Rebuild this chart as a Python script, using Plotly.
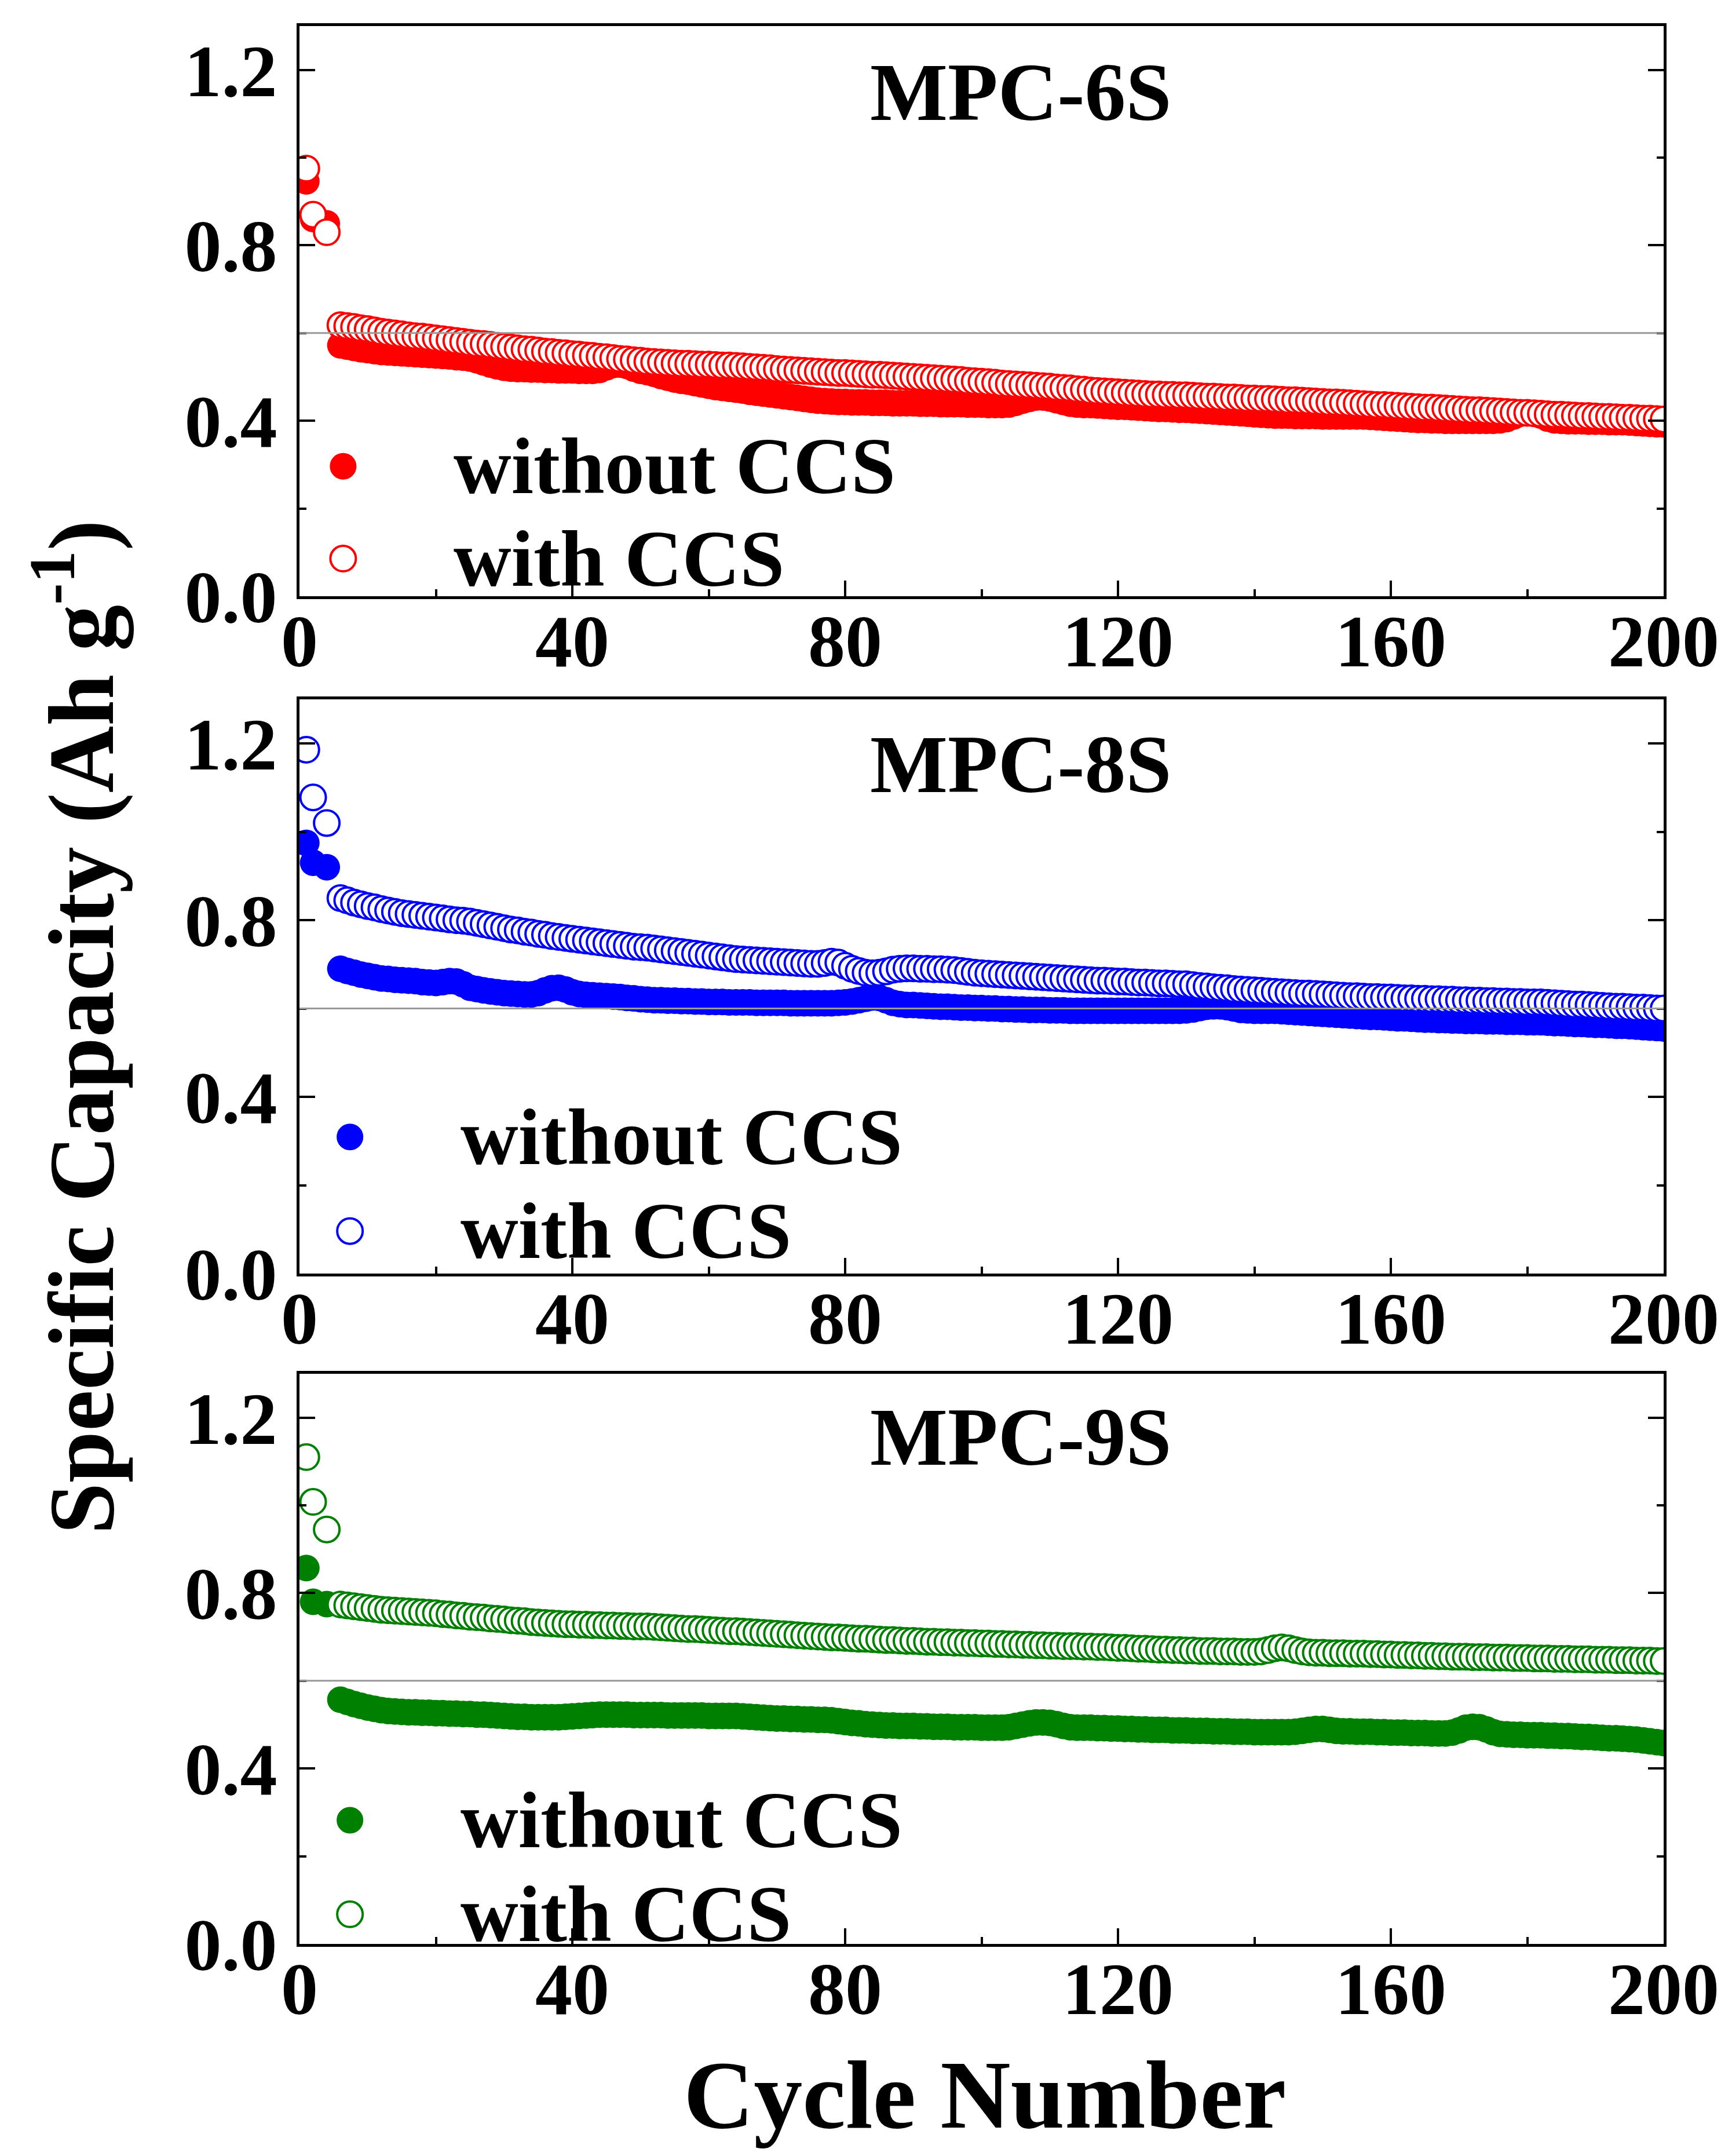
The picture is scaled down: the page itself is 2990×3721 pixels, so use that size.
import plotly.graph_objects as go

# cycle numbers
early_cycles = [1, 2, 4]
cycles = list(range(6, 201))

# MPC-6S
mpc6s_without_early = [0.946, 0.860, 0.850]
mpc6s_with_early = [0.975, 0.870, 0.830]
mpc6s_without = [
    0.572, 0.569, 0.566, 0.563, 0.561, 0.559, 0.557, 0.556, 0.555, 0.554,
    0.553, 0.552, 0.551, 0.550, 0.549, 0.548, 0.547, 0.545, 0.544, 0.542,
    0.538, 0.533, 0.528, 0.524, 0.521, 0.519, 0.518, 0.518, 0.517, 0.517,
    0.516, 0.516, 0.515, 0.515, 0.515, 0.514, 0.514, 0.514, 0.516, 0.522,
    0.527, 0.528, 0.525, 0.519, 0.514, 0.511, 0.507, 0.502, 0.498, 0.494,
    0.491, 0.489, 0.486, 0.483, 0.480, 0.477, 0.475, 0.473, 0.471, 0.469,
    0.466, 0.464, 0.462, 0.460, 0.458, 0.456, 0.454, 0.452, 0.450, 0.448,
    0.446, 0.445, 0.444, 0.443, 0.443, 0.442, 0.442, 0.442, 0.441, 0.441,
    0.441, 0.440, 0.440, 0.440, 0.440, 0.439, 0.439, 0.439, 0.438, 0.438,
    0.438, 0.438, 0.437, 0.437, 0.437, 0.436, 0.436, 0.436, 0.437, 0.441,
    0.446, 0.450, 0.453, 0.453, 0.451, 0.447, 0.443, 0.439, 0.437, 0.436,
    0.436, 0.435, 0.434, 0.433, 0.432, 0.432, 0.431, 0.430, 0.429, 0.428,
    0.427, 0.427, 0.426, 0.425, 0.425, 0.424, 0.423, 0.422, 0.421, 0.420,
    0.419, 0.418, 0.417, 0.416, 0.415, 0.414, 0.413, 0.412, 0.412, 0.412,
    0.411, 0.411, 0.411, 0.411, 0.410, 0.410, 0.410, 0.410, 0.410, 0.410,
    0.410, 0.409, 0.408, 0.407, 0.406, 0.405, 0.404, 0.403, 0.402, 0.402,
    0.401, 0.401, 0.400, 0.400, 0.400, 0.400, 0.400, 0.400, 0.400, 0.400,
    0.401, 0.404, 0.410, 0.416, 0.418, 0.417, 0.412, 0.405, 0.401, 0.400,
    0.399, 0.399, 0.399, 0.398, 0.398, 0.398, 0.397, 0.397, 0.397, 0.396,
    0.395, 0.394, 0.393, 0.392, 0.392,
]
mpc6s_with = [
    0.618, 0.616, 0.614, 0.611, 0.609, 0.606, 0.603, 0.601, 0.599, 0.597,
    0.595, 0.593, 0.592, 0.590, 0.588, 0.586, 0.584, 0.582, 0.580, 0.578,
    0.576, 0.575, 0.573, 0.571, 0.569, 0.567, 0.565, 0.563, 0.562, 0.560,
    0.558, 0.557, 0.555, 0.554, 0.552, 0.551, 0.549, 0.548, 0.546, 0.545,
    0.543, 0.541, 0.540, 0.538, 0.537, 0.535, 0.534, 0.533, 0.532, 0.531,
    0.530, 0.530, 0.529, 0.528, 0.528, 0.527, 0.526, 0.526, 0.525, 0.524,
    0.523, 0.522, 0.521, 0.520, 0.518, 0.517, 0.516, 0.515, 0.514, 0.513,
    0.512, 0.511, 0.510, 0.509, 0.509, 0.508, 0.507, 0.506, 0.505, 0.505,
    0.504, 0.503, 0.502, 0.501, 0.500, 0.499, 0.498, 0.497, 0.496, 0.495,
    0.494, 0.493, 0.491, 0.490, 0.489, 0.488, 0.487, 0.485, 0.484, 0.483,
    0.482, 0.481, 0.480, 0.479, 0.478, 0.476, 0.475, 0.474, 0.472, 0.471,
    0.469, 0.468, 0.467, 0.466, 0.465, 0.464, 0.463, 0.462, 0.461, 0.460,
    0.460, 0.459, 0.459, 0.458, 0.458, 0.457, 0.456, 0.455, 0.455, 0.454,
    0.453, 0.453, 0.452, 0.451, 0.451, 0.450, 0.450, 0.449, 0.448, 0.447,
    0.447, 0.446, 0.445, 0.444, 0.443, 0.442, 0.442, 0.441, 0.440, 0.439,
    0.438, 0.437, 0.436, 0.436, 0.435, 0.434, 0.433, 0.432, 0.431, 0.430,
    0.430, 0.429, 0.428, 0.427, 0.426, 0.425, 0.424, 0.424, 0.423, 0.422,
    0.421, 0.420, 0.419, 0.418, 0.418, 0.417, 0.416, 0.415, 0.414, 0.414,
    0.413, 0.412, 0.411, 0.411, 0.410, 0.409, 0.409, 0.408, 0.407, 0.407,
    0.406, 0.405, 0.405, 0.404, 0.403,
]

# MPC-8S
mpc8s_without_early = [0.975, 0.930, 0.920]
mpc8s_with_early = [1.186, 1.078, 1.020]
mpc8s_without = [
    0.690, 0.685, 0.681, 0.677, 0.674, 0.671, 0.668, 0.667, 0.665, 0.664,
    0.663, 0.662, 0.660, 0.659, 0.658, 0.660, 0.662, 0.661, 0.655, 0.647,
    0.644, 0.641, 0.639, 0.637, 0.635, 0.634, 0.633, 0.632, 0.632, 0.635,
    0.641, 0.646, 0.647, 0.643, 0.637, 0.633, 0.631, 0.630, 0.629, 0.628,
    0.627, 0.626, 0.624, 0.623, 0.621, 0.620, 0.619, 0.619, 0.618, 0.618,
    0.617, 0.617, 0.616, 0.616, 0.615, 0.615, 0.615, 0.614, 0.614, 0.614,
    0.614, 0.613, 0.613, 0.613, 0.613, 0.613, 0.612, 0.612, 0.612, 0.612,
    0.612, 0.612, 0.612, 0.613, 0.614, 0.616, 0.619, 0.622, 0.625, 0.624,
    0.619, 0.613, 0.610, 0.608, 0.608, 0.607, 0.606, 0.605, 0.604, 0.604,
    0.603, 0.602, 0.602, 0.601, 0.601, 0.600, 0.600, 0.599, 0.599, 0.598,
    0.598, 0.597, 0.597, 0.597, 0.596, 0.596, 0.596, 0.595, 0.595, 0.595,
    0.595, 0.595, 0.595, 0.595, 0.595, 0.595, 0.595, 0.595, 0.595, 0.595,
    0.595, 0.595, 0.595, 0.595, 0.596, 0.598, 0.601, 0.604, 0.605, 0.605,
    0.603, 0.600, 0.597, 0.596, 0.595, 0.595, 0.595, 0.595, 0.594, 0.593,
    0.592, 0.591, 0.590, 0.589, 0.588, 0.587, 0.586, 0.585, 0.584, 0.583,
    0.582, 0.581, 0.581, 0.580, 0.579, 0.578, 0.578, 0.577, 0.576, 0.575,
    0.575, 0.574, 0.574, 0.573, 0.573, 0.572, 0.572, 0.572, 0.571, 0.571,
    0.571, 0.570, 0.570, 0.570, 0.569, 0.569, 0.569, 0.568, 0.567, 0.567,
    0.566, 0.565, 0.565, 0.564, 0.563, 0.563, 0.562, 0.561, 0.561, 0.560,
    0.559, 0.558, 0.557, 0.556, 0.555,
]
mpc8s_with = [
    0.850, 0.845, 0.840, 0.836, 0.832, 0.829, 0.825, 0.822, 0.819, 0.816,
    0.814, 0.812, 0.810, 0.808, 0.806, 0.804, 0.802, 0.800, 0.799, 0.797,
    0.794, 0.791, 0.788, 0.785, 0.782, 0.779, 0.777, 0.774, 0.772, 0.769,
    0.767, 0.764, 0.762, 0.760, 0.758, 0.756, 0.754, 0.752, 0.750, 0.748,
    0.746, 0.744, 0.742, 0.740, 0.739, 0.738, 0.736, 0.734, 0.732, 0.730,
    0.728, 0.726, 0.724, 0.722, 0.720, 0.718, 0.716, 0.714, 0.712, 0.711,
    0.710, 0.709, 0.708, 0.707, 0.706, 0.705, 0.704, 0.703, 0.702, 0.701,
    0.701, 0.703, 0.706, 0.704, 0.697, 0.690, 0.685, 0.681, 0.680, 0.681,
    0.684, 0.688, 0.690, 0.691, 0.691, 0.690, 0.690, 0.689, 0.689, 0.688,
    0.687, 0.685, 0.683, 0.681, 0.680, 0.679, 0.678, 0.677, 0.676, 0.675,
    0.674, 0.673, 0.672, 0.671, 0.670, 0.669, 0.668, 0.667, 0.666, 0.665,
    0.664, 0.663, 0.663, 0.662, 0.661, 0.661, 0.660, 0.659, 0.659, 0.658,
    0.657, 0.657, 0.656, 0.655, 0.655, 0.653, 0.651, 0.650, 0.648, 0.647,
    0.646, 0.644, 0.643, 0.642, 0.641, 0.640, 0.639, 0.638, 0.637, 0.636,
    0.635, 0.634, 0.634, 0.633, 0.632, 0.631, 0.630, 0.629, 0.628, 0.628,
    0.627, 0.626, 0.626, 0.625, 0.625, 0.624, 0.623, 0.623, 0.622, 0.622,
    0.621, 0.621, 0.620, 0.620, 0.619, 0.619, 0.618, 0.618, 0.617, 0.617,
    0.616, 0.616, 0.615, 0.615, 0.614, 0.614, 0.614, 0.613, 0.612, 0.611,
    0.610, 0.609, 0.609, 0.608, 0.607, 0.606, 0.605, 0.604, 0.604, 0.603,
    0.602, 0.602, 0.601, 0.600, 0.600,
]

# MPC-9S
mpc9s_without_early = [0.857, 0.780, 0.775]
mpc9s_with_early = [1.110, 1.008, 0.945]
mpc9s_without = [
    0.557, 0.552, 0.547, 0.543, 0.539, 0.536, 0.533, 0.531, 0.530, 0.529,
    0.528, 0.528, 0.527, 0.527, 0.526, 0.526, 0.525, 0.525, 0.524, 0.524,
    0.523, 0.523, 0.522, 0.521, 0.520, 0.519, 0.518, 0.518, 0.517, 0.517,
    0.517, 0.517, 0.517, 0.518, 0.519, 0.520, 0.521, 0.522, 0.523, 0.523,
    0.523, 0.523, 0.523, 0.522, 0.522, 0.522, 0.522, 0.522, 0.521, 0.521,
    0.521, 0.521, 0.521, 0.521, 0.520, 0.520, 0.520, 0.520, 0.520, 0.519,
    0.518, 0.517, 0.516, 0.515, 0.514, 0.514, 0.513, 0.513, 0.512, 0.512,
    0.511, 0.511, 0.510, 0.508, 0.506, 0.504, 0.503, 0.501, 0.500, 0.499,
    0.498, 0.498, 0.497, 0.497, 0.497, 0.496, 0.496, 0.495, 0.495, 0.495,
    0.494, 0.494, 0.494, 0.494, 0.493, 0.493, 0.493, 0.493, 0.494, 0.497,
    0.500, 0.503, 0.505, 0.505, 0.504, 0.501, 0.497, 0.494, 0.493, 0.493,
    0.493, 0.492, 0.492, 0.491, 0.491, 0.490, 0.490, 0.489, 0.489, 0.488,
    0.488, 0.488, 0.487, 0.487, 0.487, 0.486, 0.486, 0.486, 0.485, 0.485,
    0.485, 0.484, 0.484, 0.484, 0.483, 0.483, 0.483, 0.483, 0.483, 0.483,
    0.484, 0.486, 0.488, 0.490, 0.490, 0.488, 0.486, 0.485, 0.485, 0.484,
    0.484, 0.484, 0.483, 0.483, 0.482, 0.482, 0.482, 0.481, 0.481, 0.481,
    0.480, 0.480, 0.480, 0.482, 0.487, 0.493, 0.495, 0.494, 0.489, 0.483,
    0.479, 0.478, 0.477, 0.477, 0.476, 0.476, 0.476, 0.475, 0.475, 0.474,
    0.474, 0.473, 0.472, 0.472, 0.471, 0.470, 0.469, 0.469, 0.468, 0.467,
    0.466, 0.464, 0.462, 0.460, 0.458,
]
mpc9s_with = [
    0.774, 0.772, 0.770, 0.768, 0.766, 0.764, 0.762, 0.761, 0.760, 0.759,
    0.758, 0.757, 0.756, 0.755, 0.754, 0.752, 0.751, 0.749, 0.748, 0.746,
    0.745, 0.744, 0.742, 0.741, 0.740, 0.738, 0.737, 0.736, 0.734, 0.733,
    0.732, 0.731, 0.730, 0.729, 0.729, 0.728, 0.728, 0.727, 0.727, 0.726,
    0.726, 0.725, 0.725, 0.724, 0.724, 0.724, 0.723, 0.722, 0.721, 0.720,
    0.719, 0.718, 0.718, 0.717, 0.716, 0.715, 0.714, 0.713, 0.713, 0.712,
    0.711, 0.710, 0.709, 0.708, 0.707, 0.706, 0.705, 0.704, 0.703, 0.702,
    0.701, 0.700, 0.699, 0.699, 0.698, 0.697, 0.696, 0.696, 0.695, 0.694,
    0.693, 0.693, 0.692, 0.691, 0.691, 0.690, 0.689, 0.689, 0.688, 0.688,
    0.687, 0.687, 0.686, 0.686, 0.685, 0.685, 0.684, 0.684, 0.683, 0.683,
    0.682, 0.682, 0.681, 0.681, 0.680, 0.680, 0.679, 0.679, 0.679, 0.678,
    0.678, 0.677, 0.677, 0.676, 0.675, 0.675, 0.674, 0.673, 0.673, 0.672,
    0.671, 0.671, 0.670, 0.670, 0.669, 0.669, 0.668, 0.668, 0.668, 0.667,
    0.667, 0.667, 0.666, 0.666, 0.666, 0.667, 0.670, 0.674, 0.676, 0.674,
    0.670, 0.667, 0.665, 0.664, 0.664, 0.663, 0.663, 0.663, 0.662, 0.662,
    0.662, 0.661, 0.661, 0.660, 0.660, 0.659, 0.659, 0.658, 0.658, 0.657,
    0.657, 0.656, 0.656, 0.655, 0.655, 0.655, 0.654, 0.654, 0.654, 0.653,
    0.653, 0.653, 0.652, 0.652, 0.652, 0.651, 0.651, 0.651, 0.650, 0.650,
    0.650, 0.649, 0.649, 0.649, 0.648, 0.648, 0.648, 0.647, 0.647, 0.647,
    0.646, 0.646, 0.646, 0.645, 0.645,
]

sample_names = ["MPC-6S", "MPC-8S", "MPC-9S"]
colors = ["#ff0000", "#0000ff", "#008000"]
series_names = ["without CCS", "with CCS"]
ref_level = 0.6

panels = [
    (mpc6s_without_early, mpc6s_without, mpc6s_with_early, mpc6s_with),
    (mpc8s_without_early, mpc8s_without, mpc8s_with_early, mpc8s_with),
    (mpc9s_without_early, mpc9s_without, mpc9s_with_early, mpc9s_with),
]

W, H = 2990, 3721
OFF = 8  # page body margin
FW, FH = W - 2 * OFF, H - 2 * OFF


def px_x(p):
    return (p - OFF) / FW


def px_y(p):
    return 1 - (p - OFF) / FH


FONT = "Liberation Serif"
x_dom = [px_x(517), px_x(2872)]
# plot areas in page pixels (top, bottom)
y_px = [(45, 1029), (1207, 2198), (2371, 3355)]
legend_y = [(0.228, 0.066), (0.238, 0.074), (0.217, 0.052)]
legend_mx = [0.032, 0.037, 0.037]
legend_tx = [0.112, 0.117, 0.117]
title_y = [0.884, 0.887, 0.889]

fig = go.Figure()
shapes = []
annotations = []

for i, (wo_early, wo, w_early, w) in enumerate(panels):
    n = "" if i == 0 else str(i + 1)
    xa, ya = "x" + n, "y" + n
    col = colors[i]

    # filled symbols first, open (white-filled) symbols on top
    fig.add_trace(go.Scatter(
        x=early_cycles + cycles, y=wo_early + wo, xaxis=xa, yaxis=ya,
        mode="markers", name=series_names[0], showlegend=False,
        marker=dict(symbol="circle", size=46, color=col,
                    line=dict(width=0)),
    ))
    fig.add_trace(go.Scatter(
        x=early_cycles + cycles, y=w_early + w, xaxis=xa, yaxis=ya,
        mode="markers", name=series_names[1], showlegend=False,
        marker=dict(symbol="circle", size=44, color="white",
                    line=dict(width=4, color=col)),
    ))

    top, bot = y_px[i]
    common = dict(
        showline=True, linecolor="black", linewidth=5,
        ticks="inside", ticklen=27, tickwidth=4, tickcolor="black",
        showgrid=False, zeroline=False, automargin=False,
        tickfont=dict(family=FONT, size=128, color="black", weight="bold"),
    )
    fig.update_layout({
        "xaxis" + n: dict(
            domain=x_dom, range=[0, 200], anchor=ya, mirror=True,
            tickmode="array", tickvals=[0, 40, 80, 120, 160, 200],
            minor=dict(tickvals=[20, 60, 100, 140, 180], ticks="inside",
                       ticklen=12, tickwidth=4, tickcolor="black"),
            ticklabelstandoff=-38,
            **common,
        ),
        "yaxis" + n: dict(
            domain=[px_y(bot), px_y(top)], range=[0, 1.3], anchor=xa,
            mirror="ticks", tickmode="array", tickvals=[0, 0.4, 0.8, 1.2],
            tickformat=".1f",
            minor=dict(tickvals=[0.2, 0.6, 1.0], ticks="inside",
                       ticklen=12, tickwidth=4, tickcolor="black"),
            ticklabelstandoff=8,
            **common,
        ),
    })

    # reference line
    shapes.append(dict(type="line", xref=xa + " domain", yref=ya,
                       x0=0, x1=1, y0=ref_level, y1=ref_level,
                       line=dict(color="#999999", width=3), layer="above"))

    # panel title
    annotations.append(dict(
        text=sample_names[i], xref=xa + " domain", yref=ya + " domain",
        x=0.529, y=title_y[i], xanchor="center", yanchor="middle",
        showarrow=False,
        font=dict(family=FONT, size=142, color="black", weight="bold"),
    ))

    # legend keys
    for j, ly in enumerate(legend_y[i]):
        shp = dict(type="circle", xref=xa + " domain", yref=ya + " domain",
                   xsizemode="pixel", ysizemode="pixel",
                   xanchor=legend_mx[i], yanchor=ly,
                   x0=-22, x1=22, y0=-22, y1=22)
        if j == 0:
            shp.update(fillcolor=col, line=dict(color=col, width=2))
        else:
            shp.update(fillcolor="white", line=dict(color=col, width=4))
        shapes.append(shp)
        annotations.append(dict(
            text=series_names[j], xref=xa + " domain", yref=ya + " domain",
            x=legend_tx[i], y=ly, xanchor="left", yanchor="middle",
            showarrow=False,
            font=dict(family=FONT, size=138, color="black", weight="bold"),
        ))

annotations.append(dict(
    text="Cycle Number", xref="paper", yref="paper",
    x=px_x(1700), y=px_y(3615), xanchor="center", yanchor="middle",
    showarrow=False,
    font=dict(family=FONT, size=168, color="black", weight="bold"),
))
annotations.append(dict(
    text="Specific Capacity (Ah g<sup>-1</sup>)", xref="paper", yref="paper",
    x=px_x(130), y=px_y(1773), xanchor="center", yanchor="middle",
    textangle=-90, showarrow=False,
    font=dict(family=FONT, size=160, color="black", weight="bold"),
))

fig.update_layout(
    width=FW, height=FH,
    margin=dict(l=0, r=0, t=0, b=0),
    paper_bgcolor="white", plot_bgcolor="white",
    showlegend=False,
    shapes=shapes,
    annotations=annotations,
)

fig.write_html("out.html")
